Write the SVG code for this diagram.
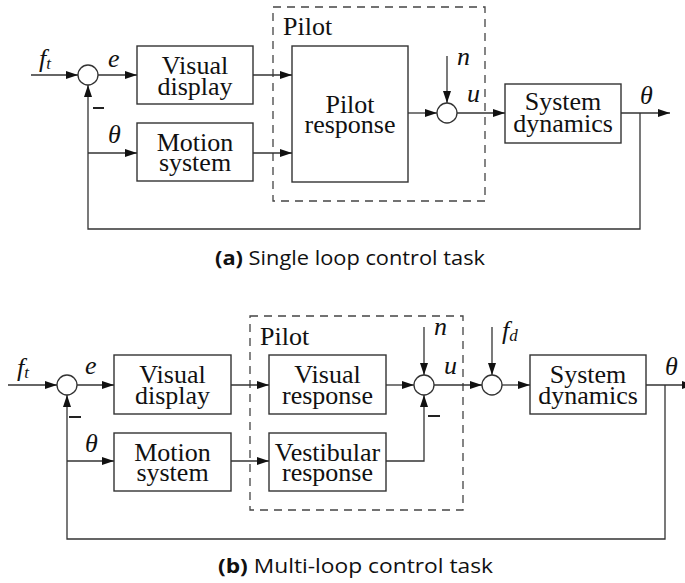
<svg xmlns="http://www.w3.org/2000/svg" width="685" height="583" viewBox="0 0 685 583">
  <style>
    .box { fill: #fff; stroke: #333; stroke-width: 1.4; }
    .sum { fill: #fff; stroke: #333; stroke-width: 1.3; }
    .wire { fill: none; stroke: #333; stroke-width: 1.3; }
    .arr { marker-end: url(#head); }
    .dash { fill: none; stroke: #444; stroke-width: 1.3; stroke-dasharray: 8 6; }
    .minus { stroke: #222; stroke-width: 2; }
    .lbl { font-family: "Liberation Serif", serif; font-size: 26px; fill: #111; }
    .blk { font-family: "Liberation Serif", serif; font-size: 26px; fill: #111; text-anchor: middle; }
    .var { font-family: "Liberation Serif", serif; font-style: italic; font-size: 26px; fill: #111; }
    .sub { font-size: 17px; }
    .cap { font-family: "Open Sans", sans-serif; font-size: 20px; fill: #111; }
  </style>
  <defs>
    <marker id="head" markerUnits="userSpaceOnUse" markerWidth="12" markerHeight="8" refX="12" refY="4" orient="auto">
      <path d="M0,0 L12,4 L0,8 z" fill="#111"/>
    </marker>
  </defs>

  <!-- ===== (a) single loop ===== -->
  <g id="a-pilot-frame">
    <rect class="dash" x="273" y="7" width="212" height="194"/>
    <text class="lbl" x="283" y="35">Pilot</text>
  </g>
  <g id="a-sum1"><circle class="sum" cx="88" cy="75" r="10"/></g>
  <g id="a-visual-display">
    <rect class="box" x="137" y="46" width="116" height="58"/>
    <text class="blk" x="195" y="74">Visual</text>
    <text class="blk" x="195" y="95">display</text>
  </g>
  <g id="a-motion-system">
    <rect class="box" x="137" y="123" width="116" height="58"/>
    <text class="blk" x="195" y="151">Motion</text>
    <text class="blk" x="195" y="171">system</text>
  </g>
  <g id="a-pilot-response">
    <rect class="box" x="292" y="46" width="116" height="136"/>
    <text class="blk" x="350" y="113">Pilot</text>
    <text class="blk" x="350" y="133">response</text>
  </g>
  <g id="a-sum2"><circle class="sum" cx="447" cy="113" r="10"/></g>
  <g id="a-system-dynamics">
    <rect class="box" x="505" y="84" width="116" height="59"/>
    <text class="blk" x="563" y="110">System</text>
    <text class="blk" x="563" y="132">dynamics</text>
  </g>

  <g id="a-connectors">
    <line class="wire arr" x1="31" y1="75" x2="78" y2="75"/>
    <line class="wire arr" x1="98" y1="75" x2="137" y2="75"/>
    <line class="wire arr" x1="253" y1="75" x2="292" y2="75"/>
    <line class="wire arr" x1="253" y1="153" x2="292" y2="153"/>
    <line class="wire arr" x1="408" y1="113" x2="437" y2="113"/>
    <line class="wire arr" x1="447" y1="56" x2="447" y2="103"/>
    <line class="wire arr" x1="457" y1="113" x2="505" y2="113"/>
    <line class="wire arr" x1="621" y1="113" x2="670" y2="113"/>
    <polyline class="wire arr" points="640,113 640,229 88,229 88,85"/>
    <line class="wire arr" x1="88" y1="153" x2="137" y2="153"/>
    <line class="minus" x1="93" y1="108" x2="104" y2="108"/>
  </g>
  <g id="a-labels">
    <text class="var" x="39" y="67">f<tspan class="sub" dy="2">t</tspan></text>
    <text class="var" x="108" y="67">e</text>
    <text class="var" x="108" y="143">θ</text>
    <text class="var" x="457" y="65">n</text>
    <text class="var" x="467" y="102">u</text>
    <text class="var" x="640" y="104">θ</text>
  </g>
  <text class="cap" x="215" y="265" textLength="270" lengthAdjust="spacingAndGlyphs"><tspan font-weight="bold">(a)</tspan> Single loop control task</text>

  <!-- ===== (b) multi-loop ===== -->
  <g id="b-pilot-frame">
    <rect class="dash" x="250" y="316" width="213" height="194"/>
    <text class="lbl" x="260" y="345">Pilot</text>
  </g>
  <g id="b-sum1"><circle class="sum" cx="67" cy="385" r="10"/></g>
  <g id="b-visual-display">
    <rect class="box" x="114" y="355" width="117" height="59"/>
    <text class="blk" x="172.5" y="383">Visual</text>
    <text class="blk" x="172.5" y="404">display</text>
  </g>
  <g id="b-motion-system">
    <rect class="box" x="114" y="433" width="117" height="58"/>
    <text class="blk" x="172.5" y="461">Motion</text>
    <text class="blk" x="172.5" y="481">system</text>
  </g>
  <g id="b-visual-response">
    <rect class="box" x="269" y="355" width="117" height="59"/>
    <text class="blk" x="327.5" y="383">Visual</text>
    <text class="blk" x="327.5" y="404">response</text>
  </g>
  <g id="b-vestibular-response">
    <rect class="box" x="269" y="433" width="117" height="58"/>
    <text class="blk" x="327.5" y="461">Vestibular</text>
    <text class="blk" x="327.5" y="481">response</text>
  </g>
  <g id="b-sum2"><circle class="sum" cx="424" cy="385" r="10"/></g>
  <g id="b-sum3"><circle class="sum" cx="492" cy="385" r="10"/></g>
  <g id="b-system-dynamics">
    <rect class="box" x="530" y="355" width="116" height="59"/>
    <text class="blk" x="588" y="383">System</text>
    <text class="blk" x="588" y="404">dynamics</text>
  </g>

  <g id="b-connectors">
    <line class="wire arr" x1="8" y1="385" x2="57" y2="385"/>
    <line class="wire arr" x1="77" y1="385" x2="114" y2="385"/>
    <line class="wire arr" x1="231" y1="385" x2="269" y2="385"/>
    <line class="wire arr" x1="231" y1="461" x2="269" y2="461"/>
    <line class="wire arr" x1="386" y1="385" x2="414" y2="385"/>
    <polyline class="wire arr" points="386,461 424,461 424,395"/>
    <line class="wire arr" x1="424" y1="327" x2="424" y2="375"/>
    <line class="wire arr" x1="434" y1="385" x2="482" y2="385"/>
    <line class="wire arr" x1="492" y1="327" x2="492" y2="375"/>
    <line class="wire arr" x1="502" y1="385" x2="530" y2="385"/>
    <line class="wire arr" x1="646" y1="385" x2="694" y2="385"/>
    <polyline class="wire arr" points="665,385 665,539 67,539 67,395"/>
    <line class="wire arr" x1="67" y1="461" x2="114" y2="461"/>
    <line class="minus" x1="69" y1="417" x2="81" y2="417"/>
    <line class="minus" x1="428" y1="416" x2="440" y2="416"/>
  </g>
  <g id="b-labels">
    <text class="var" x="17" y="376">f<tspan class="sub" dy="2">t</tspan></text>
    <text class="var" x="85" y="374">e</text>
    <text class="var" x="85" y="452">θ</text>
    <text class="var" x="434" y="335">n</text>
    <text class="var" x="444" y="374">u</text>
    <text class="var" x="502" y="339">f<tspan class="sub" dy="2">d</tspan></text>
    <text class="var" x="665" y="375">θ</text>
  </g>
  <text class="cap" x="218" y="573" textLength="275" lengthAdjust="spacingAndGlyphs"><tspan font-weight="bold">(b)</tspan> Multi-loop control task</text>
</svg>
